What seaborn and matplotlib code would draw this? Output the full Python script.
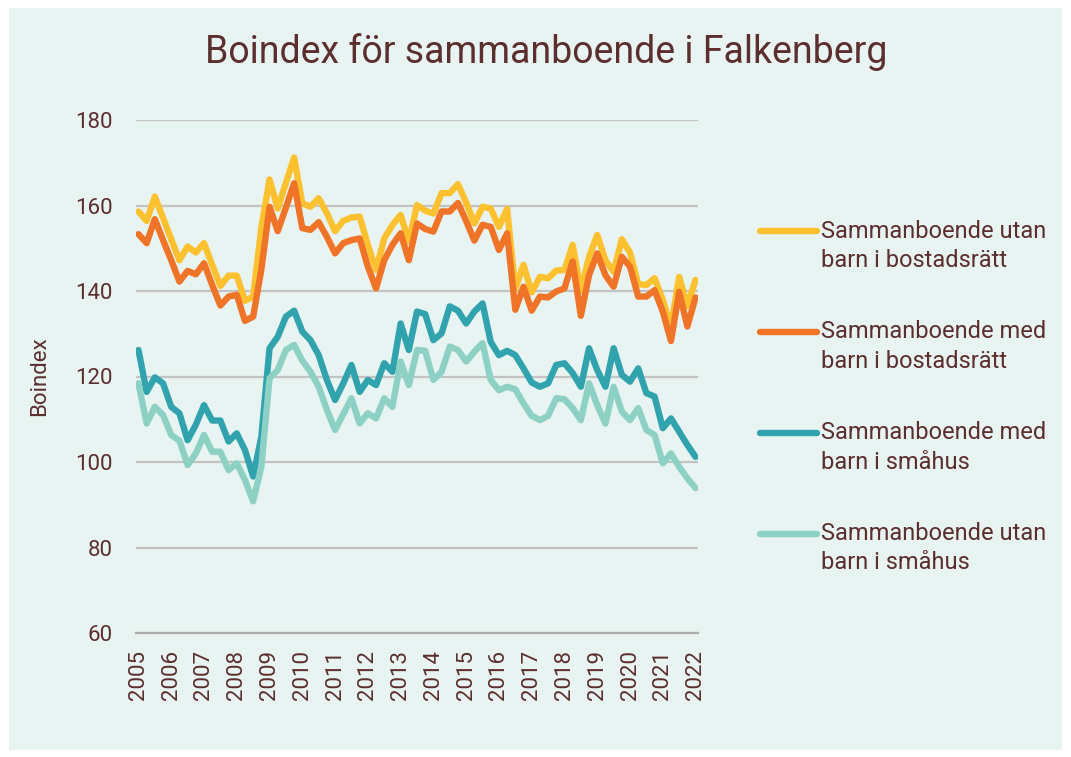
import pandas as pd
import matplotlib.pyplot as plt
import seaborn as sns
from matplotlib.patches import Rectangle

# Boindex per kvartal, 2005 K1 - 2022 K1 (69 kvartal)
ar = list(range(2005, 2023))

utan_barn_br = [158.6, 156.4, 162.1, 157.1, 152.1, 147.2, 150.4, 149.0, 151.2, 146.1,
                141.2, 143.6, 143.6, 137.7, 138.7, 154.8, 166.1, 159.3, 165.3, 171.2,
                160.5, 159.7, 161.7, 158.2, 154.0, 156.4, 157.2, 157.4, 150.8, 144.9,
                152.3, 155.4, 157.8, 151.6, 160.1, 158.8, 158.1, 162.9, 162.9, 165.0,
                160.7, 155.8, 159.7, 159.3, 155.0, 159.2, 140.5, 146.1, 139.7, 143.3,
                143.0, 144.8, 144.9, 150.8, 140.0, 148.0, 153.1, 147.2, 144.5, 152.1,
                149.0, 141.6, 141.4, 143.0, 137.9, 131.5, 143.3, 136.5, 142.6]

med_barn_br = [153.3, 151.2, 156.8, 151.9, 147.2, 142.2, 144.7, 143.9, 146.5, 141.4,
               136.6, 138.7, 139.1, 133.0, 134.0, 145.0, 159.7, 154.0, 159.5, 165.2,
               154.7, 154.3, 156.1, 152.7, 148.8, 151.2, 151.9, 152.3, 145.7, 140.6,
               147.2, 150.8, 153.5, 147.2, 155.8, 154.5, 153.9, 158.6, 158.6, 160.6,
               156.4, 151.8, 155.5, 155.0, 149.6, 153.5, 135.6, 141.0, 135.4, 138.7,
               138.5, 139.9, 140.6, 146.9, 134.2, 143.7, 148.8, 143.7, 141.0, 148.0,
               145.7, 138.7, 138.7, 140.2, 135.2, 128.3, 139.8, 131.7, 138.5]

med_barn_sh = [126.2, 116.4, 119.8, 118.4, 112.9, 111.4, 105.1, 108.7, 113.3, 109.7,
               109.7, 104.8, 106.7, 102.8, 96.6, 105.9, 126.6, 129.3, 134.0, 135.4,
               130.5, 128.5, 125.0, 119.2, 114.5, 118.4, 122.7, 116.4, 119.2, 118.0,
               123.1, 121.1, 132.4, 126.2, 135.2, 134.6, 128.5, 130.1, 136.4, 135.4,
               132.4, 135.2, 137.1, 128.1, 125.0, 126.0, 125.0, 121.9, 118.6, 117.6,
               118.4, 122.7, 123.1, 120.8, 117.6, 126.6, 121.5, 117.6, 126.6, 120.4,
               118.8, 121.9, 116.1, 115.3, 107.9, 110.2, 107.1, 104.0, 101.2]

utan_barn_sh = [118.4, 109.0, 112.9, 111.0, 106.3, 105.0, 99.3, 102.0, 106.3, 102.4,
                102.4, 98.1, 99.7, 95.8, 90.8, 98.9, 119.6, 121.5, 126.2, 127.4,
                123.7, 121.1, 117.6, 112.2, 107.5, 111.2, 114.9, 109.0, 111.4, 110.2,
                114.9, 112.9, 123.5, 118.0, 126.2, 126.0, 119.2, 121.1, 127.0, 126.2,
                123.5, 125.8, 127.8, 119.2, 116.8, 117.6, 117.0, 113.7, 110.8, 109.8,
                110.8, 114.9, 114.7, 112.6, 109.8, 118.4, 113.3, 109.0, 117.6, 111.8,
                109.8, 112.6, 107.5, 106.3, 99.7, 102.0, 98.9, 96.2, 93.9]

serier = ['Sammanboende utan barn i bostadsrätt',
          'Sammanboende med barn i bostadsrätt',
          'Sammanboende med barn i småhus',
          'Sammanboende utan barn i småhus']
etiketter = ['Sammanboende utan\nbarn i bostadsrätt',
             'Sammanboende med\nbarn i bostadsrätt',
             'Sammanboende med\nbarn i småhus',
             'Sammanboende utan\nbarn i småhus']
farger = ['#FDC02F', '#F07427', '#31A3AE', '#8DD0C4']

# long-form
df = pd.concat([
    pd.DataFrame({'kvartal': range(len(v)), 'Boindex': v, 'serie': s})
    for s, v in zip(serier, [utan_barn_br, med_barn_br, med_barn_sh, utan_barn_sh])
], ignore_index=True)

bg = '#E8F4F1'
brun = '#5C2E2E'

sns.set_theme(style='white')
plt.rcParams['font.family'] = ['Roboto', 'DejaVu Sans']
plt.rcParams['text.color'] = brun
plt.rcParams['axes.labelcolor'] = brun
plt.rcParams['xtick.color'] = brun
plt.rcParams['ytick.color'] = brun

fig = plt.figure(figsize=(10.71, 7.57), dpi=100, facecolor='white')
fig.patches.append(Rectangle((9 / 1071, 1 - 750 / 757), 1053 / 1071, 742 / 757,
                             transform=fig.transFigure, facecolor=bg,
                             edgecolor='none', zorder=-10))
ax = fig.add_axes([136 / 1071, 1 - 633 / 757, 562 / 1071, 513 / 757])
ax.set_facecolor(bg)

sns.lineplot(data=df, x='kvartal', y='Boindex', hue='serie', hue_order=serier,
             palette=farger, linewidth=4.6, ax=ax, legend=True)

ax.set_ylim(60, 180)
ax.set_yticks(range(60, 181, 20))
ax.set_xlim(-0.3, 68.3)
ax.set_xticks(range(0, 69, 4))
ax.set_xticklabels([str(a) for a in ar], rotation=90)
ax.tick_params(axis='y', length=0, pad=17, labelsize=16)
ax.tick_params(axis='x', length=0, pad=12, labelsize=16)
ax.grid(axis='y', color='#C3C3C3', linewidth=1.6)
ax.set_axisbelow(True)
for s in ['top', 'right', 'left']:
    ax.spines[s].set_visible(False)
ax.spines['bottom'].set_color('#ABABAB')
ax.spines['bottom'].set_linewidth(1.6)

ax.set_xlabel('')
ax.set_ylabel('Boindex', fontsize=16)
ax.yaxis.set_label_coords(-0.153, 0.5)

fig.text(0.51, 0.931, 'Boindex för sammanboende i Falkenberg',
         ha='center', va='center', fontsize=27, color=brun)

handles, labels = ax.get_legend_handles_labels()
ax.get_legend().remove()
leg = fig.legend(handles, etiketter, loc='center left',
                 bbox_to_anchor=(760 / 1071, 1 - 397 / 757),
                 frameon=False, fontsize=17, handlelength=2.4,
                 handletextpad=0.2, labelspacing=2.05, borderpad=0,
                 borderaxespad=0)
for t in leg.get_texts():
    t.set_linespacing(1.35)
for h in leg.legend_handles:
    h.set_linewidth(4.6)
    h.set_solid_capstyle('round')
    y = h.get_ydata()
    h.set_ydata([v + 11 for v in y])

fig.savefig('out.png', dpi=100, facecolor='white')
